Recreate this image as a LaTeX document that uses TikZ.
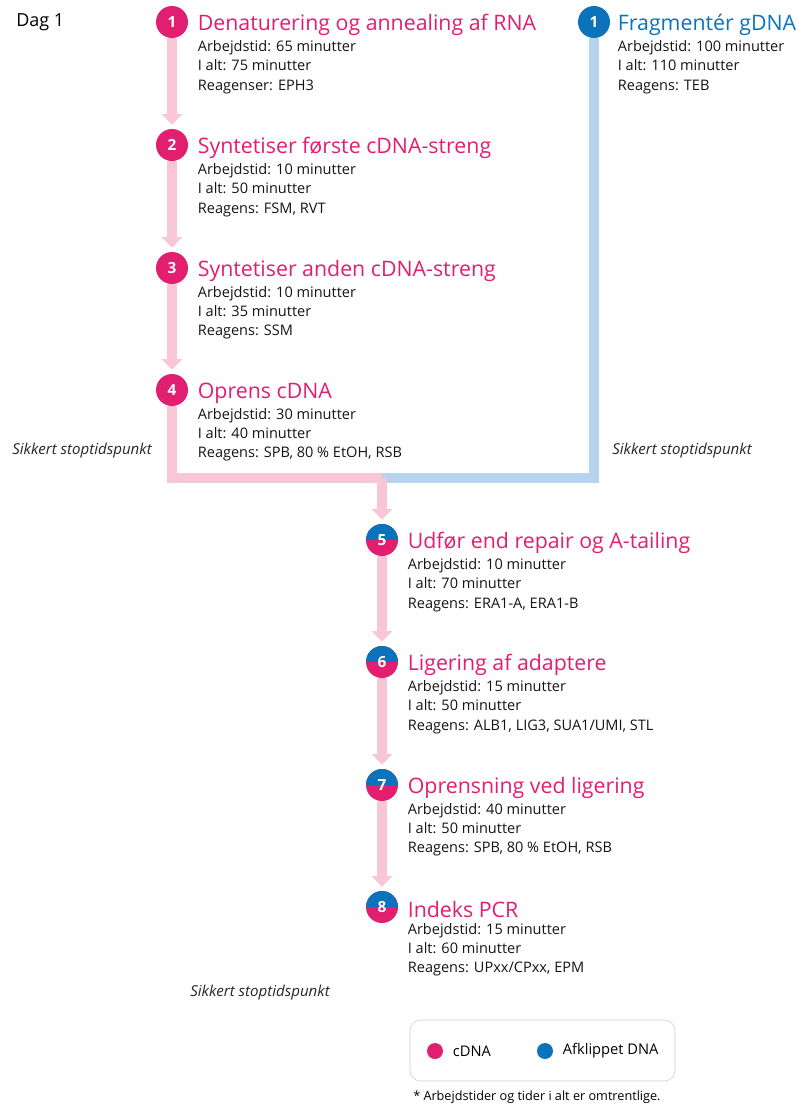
\documentclass[tikz,border=0pt]{standalone}
\usepackage{fontspec}
\setmainfont{Open Sans}
\usetikzlibrary{positioning,arrows.meta}
\definecolor{cdnapink}{RGB}{226,30,112}
\definecolor{gdnablue}{RGB}{12,114,188}
\definecolor{lightpink}{RGB}{248,198,212}
\definecolor{lightblue}{RGB}{182,212,238}

\begin{document}
\begin{tikzpicture}[x=0.75pt, y=-0.75pt,
        every node/.style={inner sep=0pt},
        num/.style={circle, minimum size=24pt, text=white, font=\bfseries\fontsize{11.5}{11.5}\selectfont},
        pinknum/.style={num, fill=cdnapink},
        bluenum/.style={num, fill=gdnablue},
        mixnum/.style={num, fill=cdnapink, path picture={\fill[gdnablue] (path picture bounding box.north west) rectangle (path picture bounding box.east);}},
        steptitle/.style={font=\fontsize{16}{19}\selectfont, text=cdnapink, yshift=-2.2pt},
        stepinfo/.style={font=\fontsize{10.9}{14.3}\selectfont, align=left, text=black!92},
        stopnote/.style={font=\itshape\fontsize{11.3}{13}\selectfont, text=black!85},
        pinkflow/.style={line width=7.5pt, draw=lightpink},
        blueflow/.style={line width=7.5pt, draw=lightblue},
        flowarrow/.style={-{Triangle[width=15pt,length=8pt]}, shorten >=3pt}]
    \useasboundingbox (0,0) rectangle (798,1108);

    \node[anchor=west, font=\fontsize{13.5}{15}\selectfont] (day) at (16,22) {Dag 1};

    % cDNA
    \node[pinknum] (c1) at (172,22) {1};
    \node[steptitle, right=7pt of c1] (t1) {Denaturering og annealing af RNA};
    \node[stepinfo, below right=3.5pt and 0pt of t1.south west] (i1) {Arbejdstid: 65 minutter\\I alt: 75 minutter\\Reagenser: EPH3};

    \node[pinknum] (c2) at (172,145) {2};
    \node[steptitle, right=7pt of c2] (t2) {Syntetiser første cDNA-streng};
    \node[stepinfo, below right=3.5pt and 0pt of t2.south west] (i2) {Arbejdstid: 10 minutter\\I alt: 50 minutter\\Reagens: FSM, RVT};

    \node[pinknum] (c3) at (172,268) {3};
    \node[steptitle, right=7pt of c3] (t3) {Syntetiser anden cDNA-streng};
    \node[stepinfo, below right=3.5pt and 0pt of t3.south west] (i3) {Arbejdstid: 10 minutter\\I alt: 35 minutter\\Reagens: SSM};

    \node[pinknum] (c4) at (172,390) {4};
    \node[steptitle, right=7pt of c4] (t4) {Oprens cDNA};
    \node[stepinfo, below right=3.5pt and 0pt of t4.south west] (i4) {Arbejdstid: 30 minutter\\I alt: 40 minutter\\Reagens: SPB, 80 \% EtOH, RSB};

    % gDNA
    \node[bluenum] (g1) at (594,22) {1};
    \node[steptitle, text=gdnablue, right=5.5pt of g1] (tg1) {Fragmentér gDNA};
    \node[stepinfo, below right=3.5pt and 0pt of tg1.south west] (ig1) {Arbejdstid: 100 minutter\\I alt: 110 minutter\\Reagens: TEB};

    % faelles trin
    \node[mixnum] (c5) at (382,540) {5};
    \node[steptitle, right=7pt of c5] (t5) {Udfør end repair og A-tailing};
    \node[stepinfo, below right=3.5pt and 0pt of t5.south west] (i5) {Arbejdstid: 10 minutter\\I alt: 70 minutter\\Reagens: ERA1-A, ERA1-B};

    \node[mixnum] (c6) at (382,662) {6};
    \node[steptitle, right=7pt of c6] (t6) {Ligering af adaptere};
    \node[stepinfo, below right=3.5pt and 0pt of t6.south west] (i6) {Arbejdstid: 15 minutter\\I alt: 50 minutter\\Reagens: ALB1, LIG3, SUA1/UMI, STL};

    \node[mixnum] (c7) at (382,785) {7};
    \node[steptitle, right=7pt of c7] (t7) {Oprensning ved ligering};
    \node[stepinfo, below right=3.5pt and 0pt of t7.south west] (i7) {Arbejdstid: 40 minutter\\I alt: 50 minutter\\Reagens: SPB, 80 \% EtOH, RSB};

    \node[mixnum] (c8) at (382,907) {8};
    \node[steptitle, right=7pt of c8] (t8) {Indeks PCR};
    \node[stepinfo, below right=3.5pt and 0pt of t8.south west] (i8) {Arbejdstid: 15 minutter\\I alt: 60 minutter\\Reagens: UPxx/CPxx, EPM};

    \node[stopnote, anchor=west] (stop1) at (12,451) {Sikkert stoptidspunkt};
    \node[stopnote, anchor=west] (stop2) at (612,451) {Sikkert stoptidspunkt};
    \node[stopnote, anchor=west] (stop3) at (190,993) {Sikkert stoptidspunkt};

    % forbindelser
    \coordinate (merge) at (382,478);
    \draw[pinkflow, flowarrow] (c1) -- (c2);
    \draw[pinkflow, flowarrow] (c2) -- (c3);
    \draw[pinkflow, flowarrow] (c3) -- (c4);
    \draw[blueflow] (g1) |- (merge);
    \draw[pinkflow] (c4) |- (merge);
    \draw[pinkflow, flowarrow] (merge) -- (c5);
    \draw[pinkflow, flowarrow] (c5) -- (c6);
    \draw[pinkflow, flowarrow] (c6) -- (c7);
    \draw[pinkflow, flowarrow] (c7) -- (c8);

    % forklaring
    \draw[black!20, rounded corners=8pt] (410,1020) rectangle (675,1081);
    \node[circle, fill=cdnapink, minimum size=12pt] (lgcdna) at (435,1051) {};
    \node[font=\fontsize{11}{13}\selectfont, right=7pt of lgcdna] (lgcdnatext) {cDNA};
    \node[circle, fill=gdnablue, minimum size=12pt] (lggdna) at (545,1051) {};
    \node[font=\fontsize{11}{13}\selectfont, right=7pt of lggdna] (lggdnatext) {Afklippet DNA};
    \node[anchor=west, font=\fontsize{9.5}{11}\selectfont] (footnote) at (413,1097) {* Arbejdstider og tider i alt er omtrentlige.};
\end{tikzpicture}
\end{document}
